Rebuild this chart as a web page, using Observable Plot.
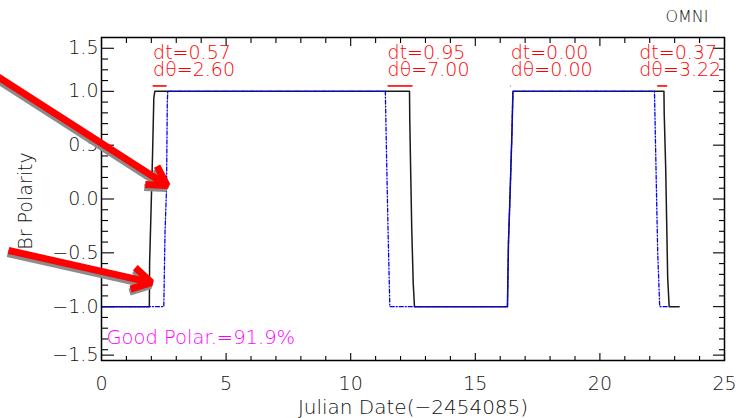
<!DOCTYPE html>
<html>
<head>
<meta charset="utf-8">
<script src="https://cdn.jsdelivr.net/npm/d3@7"></script>
<script src="https://cdn.jsdelivr.net/npm/@observablehq/plot@0.6"></script>
<style>
  html, body { margin: 0; padding: 0; background: #ffffff; }
  #chart svg { display: block; }
  #chart svg text { font-weight: 200; }
</style>
</head>
<body>
<div id="chart"></div>
<script>
// ---- data ----
// Observed (OMNI) Br polarity, black solid
const obsTime = [0, 1.92, 1.93, 1.99, 2.05, 2.10, 2.14, 12.36, 12.37, 12.41, 12.45, 12.51, 12.56, 16.29, 16.33, 16.40, 16.47, 16.51, 22.57, 22.58, 22.64, 22.68, 22.72, 22.78, 23.18];
const obsPolarity = [-1, -1, -0.6, -0.09, 0.43, 0.94, 1, 1, 0.74, 0.22, -0.28, -0.79, -1, -1, -0.41, 0.08, 0.61, 1, 1, 0.80, 0.29, -0.22, -0.73, -1, -1];
// Model Br polarity, blue dash-dot
const modTime = [0, 2.50, 2.55, 2.61, 2.64, 2.66, 11.39, 11.43, 11.50, 11.57, 16.29, 16.33, 16.40, 16.47, 16.51, 22.19, 22.25, 22.32, 22.40, 22.75];
const modPolarity = [-1, -1, -0.3, 0.1, 0.9, 1, 1, 0.5, -0.3, -1, -1, -0.41, 0.08, 0.61, 1, 1, 0.3, -0.5, -1, -1];
// Sector-boundary crossings: time offsets and angle offsets
const dtStart = [2.05, 11.48, 16.40, 22.30];
const dtEnd = [2.61, 12.48, 16.42, 22.70];
const dtLabel = ["0.57", "0.95", "0.00", "0.37"];
const dthetaLabel = ["2.60", "7.00", "0.00", "3.22"];
const labelTime = [2.07, 11.48, 16.42, 21.58];
// Annotation arrows (data units)
const arrowX1 = [-4.45, -3.73];
const arrowY1 = [1.179, -0.478];
const arrowX2 = [2.634, 2.005];
const arrowY2 = [0.125, -0.776];
// Axis ticks
const xMajor = [0, 5, 10, 15, 20, 25];
const xMinor = d3.range(0, 26).filter(v => v % 5 !== 0);
const yTickPos = [-1.45, -1.0, -0.5, 0.0, 0.5, 1.0, 1.4];
const yTickLabels = ["\u22121.5", "\u22121.0", "\u22120.5", "0.0", "0.5", "1.0", "1.5"];
const yMinor = [-1.4, -1.3, -1.2, -1.1, -0.9, -0.8, -0.7, -0.6, -0.4, -0.3, -0.2, -0.1, 0.1, 0.2, 0.3, 0.4, 0.6, 0.7, 0.8, 0.9, 1.1, 1.2, 1.3];
const xLabel = "Julian Date(\u22122454085)";
const yLabel = "Br Polarity";
const sourceLabel = "OMNI";
const goodLabel = "Good Polar.=91.9%";

// ---- tables built from the arrays ----
const obs = obsTime.map((t, i) => ({t, v: obsPolarity[i]}));
const mod = modTime.map((t, i) => ({t, v: modPolarity[i]}));
const crossings = dtStart.map((s, i) => ({s, e: dtEnd[i], dt: dtLabel[i], dth: dthetaLabel[i], lx: labelTime[i]}));
const arrows = arrowX1.map((x1, i) => ({x1, y1: arrowY1[i], x2: arrowX2[i], y2: arrowY2[i]}));
const yLabelMap = new Map(yTickPos.map((p, i) => [p, yTickLabels[i]]));

const segY = 1.05, labelY = 1.272;
const FONT = "DejaVu Sans";
const RED = "#ff0000";

const chart = Plot.plot({
  width: 740,
  height: 418,
  marginLeft: 101,
  marginRight: 16,
  marginTop: 37,
  marginBottom: 58,
  x: {domain: [0, 25]},
  y: {domain: [-1.5, 1.5]},
  style: {fontFamily: FONT, fontSize: "19px", background: "#ffffff", color: "#000000", overflow: "visible"},
  marks: [
    // inward tick marks on all four sides
    Plot.axisX(xMajor, {anchor: "bottom", tickSize: -7, fill: "none", label: null, strokeWidth: 1.1}),
    Plot.axisX(xMinor, {anchor: "bottom", tickSize: -4, fill: "none", label: null, strokeWidth: 1.1}),
    Plot.axisX(xMajor, {anchor: "top", tickSize: -8, fill: "none", label: null, strokeWidth: 1.1}),
    Plot.axisX(xMinor, {anchor: "top", tickSize: -5, fill: "none", label: null, strokeWidth: 1.1}),
    Plot.axisY(yTickPos, {anchor: "left", tickSize: -13, fill: "none", label: null, strokeWidth: 1.1}),
    Plot.axisY(yMinor, {anchor: "left", tickSize: -7, fill: "none", label: null, strokeWidth: 1.1}),
    Plot.axisY(yTickPos, {anchor: "right", tickSize: -12, fill: "none", label: null, strokeWidth: 1.1}),
    Plot.axisY(yMinor, {anchor: "right", tickSize: -6, fill: "none", label: null, strokeWidth: 1.1}),
    // tick labels
    Plot.axisX(xMajor, {anchor: "bottom", tickSize: 0, tickPadding: 16, label: null, fontSize: 19, fill: "#111", tickFormat: d => String(d)}),
    Plot.axisY(yTickPos, {anchor: "left", tickSize: 0, tickPadding: 3, label: null, fontSize: 19, fill: "#111", tickFormat: d => yLabelMap.get(d)}),
    // axis titles
    Plot.text([xLabel], {frameAnchor: "bottom", dy: 47, textAnchor: "middle", lineAnchor: "middle", fontSize: 20, fill: "#111"}),
    Plot.text([yLabel], {frameAnchor: "left", dx: -83, dy: 2, rotate: -90, textAnchor: "middle", lineAnchor: "top", fontSize: 19, fill: "#111"}),
    Plot.text([sourceLabel], {frameAnchor: "top-right", dx: -37.5, dy: -21, textAnchor: "middle", lineAnchor: "middle", fontSize: 16, fill: "#111"}),
    // series
    Plot.line(obs, {x: "t", y: "v", stroke: "#1a1a1a", strokeWidth: 1.5, curve: "linear"}),
    Plot.line(mod, {x: "t", y: "v", stroke: "#0000ff", strokeWidth: 1.3, strokeDasharray: "4,2,1,2", curve: "linear"}),
    // crossing offsets
    Plot.link(crossings, {x1: "s", x2: "e", y1: () => segY, y2: () => segY, stroke: RED, strokeWidth: 1.6}),
    Plot.text(crossings, {x: "lx", y: () => labelY, text: d => "dt=" + d.dt + "\nd\u03b8=" + d.dth, fill: RED, textAnchor: "start", lineAnchor: "middle", lineHeight: 0.9, fontSize: 19}),
    Plot.text([goodLabel], {frameAnchor: "bottom-left", dx: 5, dy: -22.5, textAnchor: "start", lineAnchor: "middle", fill: "#ff00ff", fontSize: 19.5}),
    // frame
    Plot.frame({stroke: "#000", strokeWidth: 1.5}),
    // annotation arrows with shadow
    Plot.arrow(arrows, {x1: "x1", y1: "y1", x2: "x2", y2: "y2", stroke: "#8c8c8c", strokeWidth: 7, headLength: 4.7, headAngle: 60, dx: -1, dy: 3, strokeLinejoin: "miter", strokeLinecap: "butt"}),
    Plot.arrow(arrows, {x1: "x1", y1: "y1", x2: "x2", y2: "y2", stroke: "#ff0000", strokeWidth: 7, headLength: 4.7, headAngle: 60, strokeLinejoin: "miter", strokeLinecap: "butt"})
  ]
});
document.getElementById("chart").appendChild(chart);
</script>
</body>
</html>
